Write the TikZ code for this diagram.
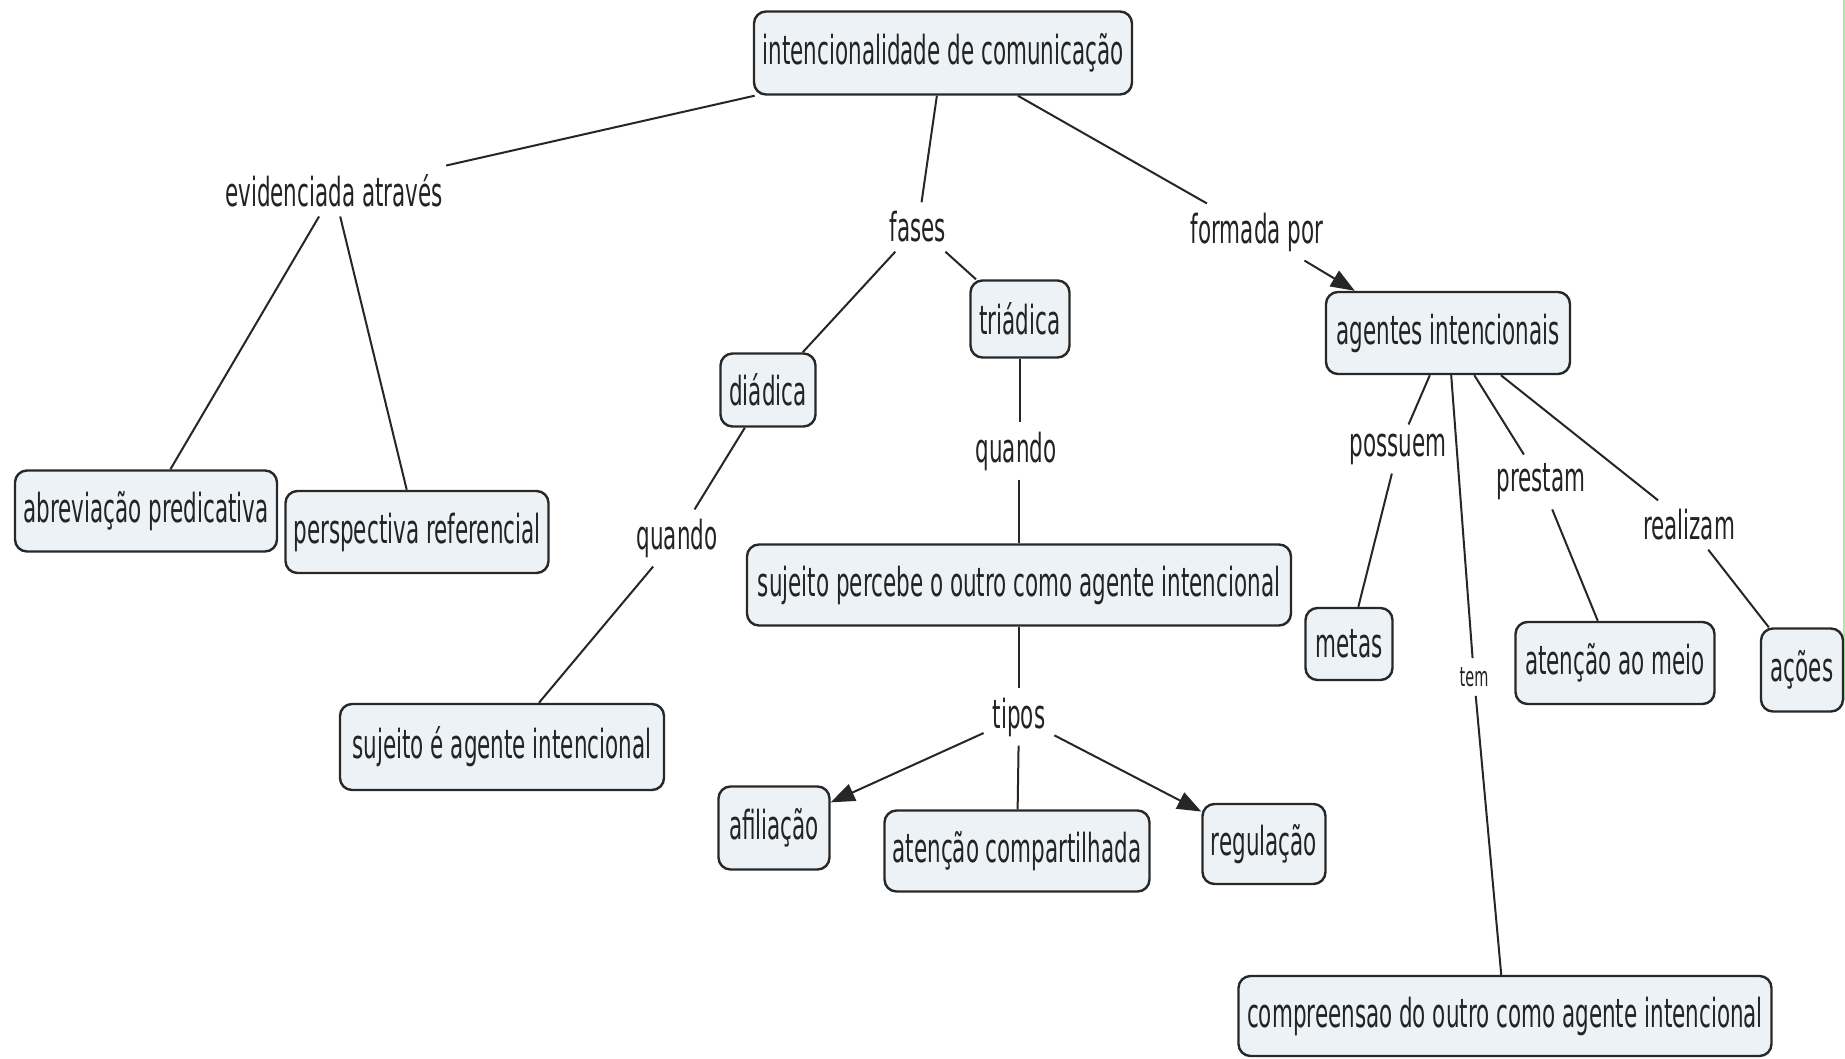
\documentclass[tikz,border=0pt]{standalone}
\usepackage{fontspec}
\setmainfont{DejaVu Sans}[FakeStretch=0.537]
\usetikzlibrary{arrows.meta}
\definecolor{boxfill}{RGB}{236,242,245}
\definecolor{boxline}{RGB}{40,40,40}
\definecolor{txt}{RGB}{35,35,35}
\definecolor{edgegreen}{RGB}{170,235,170}
\tikzset{
  concept/.style={draw=boxline, line width=2.4pt, fill=boxfill, rounded corners=12pt,
    inner sep=0pt, align=center, text=txt, font=\fontsize{40}{48}\selectfont},
  lbl/.style={inner sep=9pt, text=txt, font=\fontsize{40}{48}\selectfont},
  smalllbl/.style={inner sep=9pt, text=txt, font=\fontsize{27}{32}\selectfont},
  conn/.style={draw=black!85, line width=2pt},
  arr/.style={conn, -{Triangle[length=24pt,width=18pt]}}
}
\begin{document}
\begin{tikzpicture}[x=1pt,y=-1pt]
\fill[white] (0,0) rectangle (1845,1058);
\useasboundingbox (0,0) rectangle (1845,1058);
\draw[edgegreen, line width=2pt] (1844,0) -- (1844,700);

% concepts
\node[concept, minimum width=378pt, minimum height=83pt] (intenc) at (943,53) {intencionalidade de comunicação};
\node[concept, minimum width=244pt, minimum height=82pt] (agentes) at (1448,333) {agentes intencionais};
\node[concept, minimum width=99pt, minimum height=77pt] (triadica) at (1020,319) {triádica};
\node[concept, minimum width=95pt, minimum height=73pt] (diadica) at (768,390) {diádica};
\node[concept, minimum width=262pt, minimum height=81pt] (abrev) at (146,511) {abreviação predicativa};
\node[concept, minimum width=263pt, minimum height=82pt] (persp) at (417,532) {perspectiva referencial};
\node[concept, minimum width=324pt, minimum height=86pt] (sujeito) at (502,747) {sujeito é agente intencional};
\node[concept, minimum width=544pt, minimum height=81pt] (percebe) at (1019,585) {sujeito percebe o outro como agente intencional};
\node[concept, minimum width=111pt, minimum height=83pt] (afil) at (774,828) {afiliação};
\node[concept, minimum width=265pt, minimum height=81pt] (atcomp) at (1017,851) {atenção compartilhada};
\node[concept, minimum width=123pt, minimum height=80pt] (regul) at (1264,844) {regulação};
\node[concept, minimum width=87pt, minimum height=72pt] (metas) at (1349,644) {metas};
\node[concept, minimum width=199pt, minimum height=82pt] (atmeio) at (1615,663) {atenção ao meio};
\node[concept, minimum width=82pt, minimum height=83pt] (acoes) at (1802,670) {ações};
\node[concept, minimum width=533pt, minimum height=80pt] (compr) at (1505,1016) {compreensao do outro como agente intencional};

% linking phrases
\node[lbl] (evid) at (334,191) {evidenciada através};
\node[lbl] (fases) at (918,227) {fases};
\node[lbl] (formada) at (1257,232) {formada por};
\node[lbl] (quandoA) at (677,538) {quando};
\node[lbl] (quandoB) at (1016,451) {quando};
\node[lbl] (tipos) at (1019,717) {tipos};
\node[lbl] (possuem) at (1398,449) {possuem};
\node[smalllbl] (tem) at (1474,677) {tem};
\node[lbl] (prestam) at (1541,482) {prestam};
\node[lbl] (realizam) at (1689,525) {realizam};

% connectors
\draw[conn] (intenc) -- (evid);
\draw[conn] (evid) -- (abrev);
\draw[conn] (evid) -- (persp);
\draw[conn] (intenc) -- (fases);
\draw[conn] (fases) -- (diadica);
\draw[conn] (fases) -- (triadica);
\draw[conn] (intenc) -- (formada);
\coordinate (agtip) at ([xshift=30pt]agentes.north west);
\draw[arr] (formada) -- (agtip);
\draw[conn] (diadica) -- (quandoA);
\draw[conn] (quandoA) -- (sujeito);
\draw[conn] (triadica.south) -- (triadica.south |- quandoB.north);
\draw[conn] (percebe.north |- quandoB.south) -- (percebe.north);
\draw[conn] (percebe) -- (tipos);
\draw[arr] (tipos) -- (afil);
\draw[conn] (tipos) -- (atcomp);
\draw[arr] (tipos) -- (regul);
\draw[conn] (agentes) -- (possuem);
\draw[conn] (possuem) -- (metas);
\draw[conn] (agentes) -- (tem);
\draw[conn] (tem) -- (compr);
\draw[conn] (agentes) -- (prestam);
\draw[conn] (prestam) -- (atmeio);
\draw[conn] (agentes) -- (realizam);
\draw[conn] (realizam) -- (acoes);
\end{tikzpicture}
\end{document}
